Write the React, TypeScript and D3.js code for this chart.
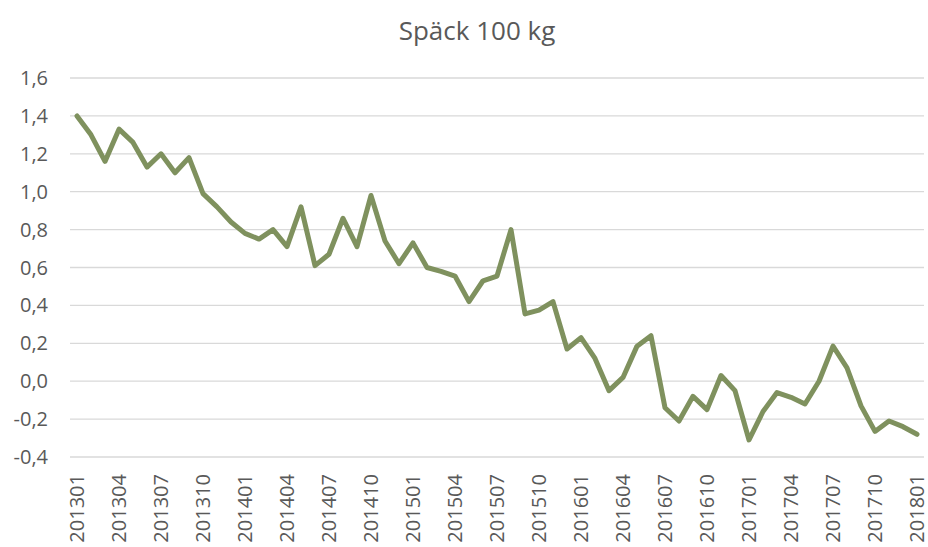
import { useRef, useEffect } from 'react';
import * as d3 from 'd3';

// månader 201301 .. 201801
const months: string[] = [];
for (let y = 2013; y <= 2018; y++) {
  for (let m = 1; m <= 12; m++) {
    if (y === 2018 && m > 1) break;
    months.push(`${y}${String(m).padStart(2, '0')}`);
  }
}

const values = [
  1.40, 1.30, 1.16, 1.33, 1.26, 1.13, 1.20, 1.10, 1.18, 0.99,
  0.92, 0.84, 0.78, 0.75, 0.80, 0.71, 0.92, 0.61, 0.67, 0.86,
  0.71, 0.98, 0.74, 0.62, 0.73, 0.60, 0.58, 0.555, 0.42, 0.53,
  0.555, 0.80, 0.355, 0.375, 0.42, 0.17, 0.23, 0.12, -0.05, 0.02,
  0.185, 0.24, -0.14, -0.21, -0.08, -0.15, 0.03, -0.05, -0.31, -0.16,
  -0.06, -0.085, -0.12, 0.0, 0.185, 0.07, -0.13, -0.265, -0.21, -0.24,
  -0.28,
];

const yTicks = [-0.4, -0.2, 0, 0.2, 0.4, 0.6, 0.8, 1.0, 1.2, 1.4, 1.6];

export default function App() {
  const svgRef = useRef<SVGSVGElement>(null);

  useEffect(() => {
    const width = 928;
    const height = 547;
    const margin = { top: 78, right: 4, bottom: 90, left: 70 };

    const svg = d3.select(svgRef.current);
    svg.selectAll('*').remove();

    const x = d3.scaleBand<string>()
      .domain(months)
      .range([margin.left, width - margin.right]);

    const y = d3.scaleLinear()
      .domain([-0.4, 1.6])
      .range([height - margin.bottom, margin.top]);

    const fmt = (d: number) => d3.format('.1f')(d).replace('.', ',').replace('−', '-');

    // rutnät
    svg.append('g')
      .selectAll('line')
      .data(yTicks)
      .join('line')
      .attr('x1', margin.left)
      .attr('x2', width - margin.right)
      .attr('y1', d => y(d))
      .attr('y2', d => y(d))
      .attr('stroke', '#d9d9d9')
      .attr('stroke-width', 1.3);

    // y-etiketter
    svg.append('g')
      .selectAll('text')
      .data(yTicks)
      .join('text')
      .attr('x', 48)
      .attr('y', d => y(d))
      .attr('dy', '0.35em')
      .attr('text-anchor', 'end')
      .attr('font-family', 'Open Sans, sans-serif')
      .attr('font-size', 20)
      .attr('fill', '#595959')
      .text(fmt);

    // x-etiketter, var tredje månad
    svg.append('g')
      .selectAll('text')
      .data(months.filter((_, i) => i % 3 === 0))
      .join('text')
      .attr('transform', d => `translate(${x(d)! + x.bandwidth() / 2},${height - margin.bottom + 17}) rotate(-90)`)
      .attr('dy', '0.35em')
      .attr('text-anchor', 'end')
      .attr('font-family', 'Open Sans, sans-serif')
      .attr('font-size', 20)
      .attr('fill', '#595959')
      .text(d => d);

    const line = d3.line<number>()
      .x((_, i) => x(months[i])! + x.bandwidth() / 2)
      .y(d => y(d));

    svg.append('path')
      .datum(values)
      .attr('d', line)
      .attr('fill', 'none')
      .attr('stroke', '#7f915e')
      .attr('stroke-width', 5)
      .attr('stroke-linejoin', 'round')
      .attr('stroke-linecap', 'round');

    svg.append('text')
      .attr('x', 477)
      .attr('y', 40)
      .attr('text-anchor', 'middle')
      .attr('font-family', 'Open Sans, sans-serif')
      .attr('font-size', 26)
      .attr('fill', '#595959')
      .text('Späck 100 kg');
  }, []);

  return (
    <svg
      ref={svgRef}
      width={928}
      height={547}
      style={{ position: 'absolute', left: 0, top: 0, background: '#fff' }}
    />
  );
}
